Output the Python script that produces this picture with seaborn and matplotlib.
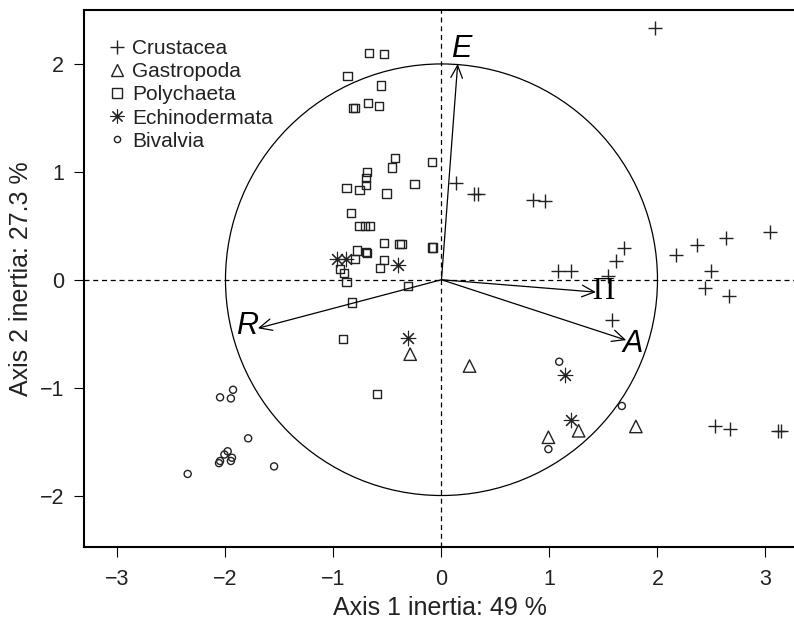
import numpy as np
import pandas as pd
import matplotlib
matplotlib.use("Agg")
import matplotlib.pyplot as plt
import seaborn as sns
from matplotlib.lines import Line2D
from matplotlib.patches import Circle

# ---------------- data ----------------
crus_x = [1.98, 0.13, 0.30, 0.34, 0.85, 0.96, 1.69, 1.62, 1.08, 1.20, 1.54, 1.58,
          2.17, 2.37, 2.63, 3.04, 2.50, 2.44, 2.66, 2.53, 2.67, 3.12, 3.14]
crus_y = [2.33, 0.90, 0.79, 0.79, 0.74, 0.73, 0.29, 0.17, 0.08, 0.08, 0.03, -0.37,
          0.23, 0.32, 0.39, 0.44, 0.08, -0.08, -0.15, -1.36, -1.38, -1.40, -1.40]

gast_x = [-0.29, 0.26, 0.99, 1.27, 1.80]
gast_y = [-0.69, -0.80, -1.46, -1.40, -1.36]

poly_x = [-0.67, -0.53, -0.87, -0.56, -0.82, -0.80, -0.68, -0.58, -0.43, -0.46,
          -0.09, -0.69, -0.70, -0.70, -0.88, -0.76, -0.51, -0.25, -0.84, -0.76,
          -0.71, -0.66, -0.53, -0.39, -0.37, -0.09, -0.08, -0.78, -0.70, -0.69,
          -0.80, -0.53, -0.57, -0.94, -0.90, -0.88, -0.31, -0.83, -0.91, -0.60]
poly_y = [2.10, 2.09, 1.89, 1.80, 1.59, 1.59, 1.64, 1.61, 1.13, 1.04,
          1.09, 1.00, 0.94, 0.88, 0.85, 0.83, 0.80, 0.89, 0.62, 0.50,
          0.50, 0.50, 0.34, 0.33, 0.33, 0.30, 0.30, 0.27, 0.26, 0.25,
          0.19, 0.18, 0.11, 0.10, 0.06, -0.02, -0.06, -0.21, -0.55, -1.06]

echi_x = [-0.97, -0.88, -0.40, -0.31, 1.14, 1.20]
echi_y = [0.19, 0.19, 0.14, -0.54, -0.88, -1.30]

biva_x = [1.09, 1.67, 0.99, -1.93, -2.05, -1.95, -1.79, -1.98, -2.01, -2.05,
          -2.06, -1.94, -1.95, -2.35, -1.55]
biva_y = [-0.76, -1.17, -1.57, -1.02, -1.09, -1.10, -1.47, -1.59, -1.62, -1.68,
          -1.70, -1.65, -1.68, -1.80, -1.73]

groups = ["Crustacea", "Gastropoda", "Polychaeta", "Echinodermata", "Bivalvia"]

# variable arrows (correlation circle)
var_names = ["E", "R", "\u03a0", "A"]
var_x = [0.15, -1.70, 1.43, 1.71]
var_y = [2.00, -0.45, -0.115, -0.56]
lab_x = [0.18, -1.80, 1.50, 1.77]
lab_y = [2.14, -0.43, -0.11, -0.60]

x_ticks = [-3, -2, -1, 0, 1, 2, 3]
y_ticks = [-2, -1, 0, 1, 2]
x_label = "Axis 1 inertia: 49 %"
y_label = "Axis 2 inertia: 27.3 %"

# ---------------- style ----------------
sns.set_theme(style="white")
plt.rcParams["font.family"] = ["Liberation Sans", "DejaVu Sans"]

W, H = 794, 623
fig = plt.figure(figsize=(W / 100, H / 100), dpi=100)
xlim = (-3.31, 3.28)
ylim = (-2.48, 2.50)
ax_left, ax_bottom = 84, 623 - 547.3
ax_w = (xlim[1] - xlim[0]) * 108.0
ax_h = 537.3
ax = fig.add_axes([ax_left / W, ax_bottom / H, ax_w / W, ax_h / H])

ink = "#222222"

frames = {
    "Crustacea": (crus_x, crus_y),
    "Gastropoda": (gast_x, gast_y),
    "Polychaeta": (poly_x, poly_y),
    "Echinodermata": (echi_x, echi_y),
    "Bivalvia": (biva_x, biva_y),
}
styles = {
    "Crustacea": dict(marker="+", s=110, linewidth=1.0, color=ink),
    "Gastropoda": dict(marker="^", s=80, facecolor="none", edgecolor=ink, linewidth=1.0),
    "Polychaeta": dict(marker="s", s=36, facecolor="none", edgecolor=ink, linewidth=1.0),
    "Echinodermata": dict(marker=(8, 2, 0), s=110, linewidth=0.8, color=ink),
    "Bivalvia": dict(marker="o", s=26, facecolor="none", edgecolor=ink, linewidth=1.0),
}
for g in groups:
    gx, gy = frames[g]
    df = pd.DataFrame({"x": gx, "y": gy})
    sns.scatterplot(data=df, x="x", y="y", ax=ax, legend=False, zorder=3, **styles[g])

# reference lines and circle
ax.axhline(0, color="black", lw=0.9, ls=(0, (4, 3)), zorder=1)
ax.axvline(0, color="black", lw=0.9, ls=(0, (4, 3)), zorder=1)
ax.add_patch(Circle((0, 0), 2, fill=False, edgecolor="black", lw=0.9, zorder=2))

# arrows
for name, vx, vy, lx, ly in zip(var_names, var_x, var_y, lab_x, lab_y):
    ax.annotate("", xy=(vx, vy), xytext=(0, 0),
                arrowprops=dict(arrowstyle="->,head_length=0.75,head_width=0.35",
                                lw=0.9, color="black", shrinkA=0, shrinkB=0),
                zorder=4)
    if name == "\u03a0":
        ax.text(lx, ly, name, fontsize=22, family=["Liberation Serif", "DejaVu Serif"],
                ha="center", va="center", color="black", zorder=5)
    else:
        ax.text(lx, ly, name, fontsize=22, style="italic",
                ha="center", va="center", color="black", zorder=5)

ax.set_xlim(*xlim)
ax.set_ylim(*ylim)
ax.set_xticks(x_ticks)
ax.set_yticks(y_ticks)
ax.set_xticklabels(["\u22123", "\u22122", "\u22121", "0", "1", "2", "3"])
ax.set_yticklabels(["\u22122", "\u22121", "0", "1", "2"])
ax.tick_params(axis="both", direction="out", length=7.3, width=0.8, color="black",
               labelsize=15.5, labelcolor=ink, bottom=True, left=True)
ax.tick_params(axis="x", pad=8)
ax.tick_params(axis="y", pad=7)
for sp in ax.spines.values():
    sp.set_visible(True)
    sp.set_color("black")
    sp.set_linewidth(1.5)

ax.set_xlabel(x_label, fontsize=18, color=ink)
ax.set_ylabel(y_label, fontsize=18, color=ink)
ax.xaxis.set_label_coords(0.5, -0.090)
ax.yaxis.set_label_coords(-0.072, 0.5)

# legend
handles = [
    Line2D([], [], ls="none", marker="+", markersize=10, mew=1.0, color=ink),
    Line2D([], [], ls="none", marker="^", markersize=8, mew=1.0, mfc="none", mec=ink),
    Line2D([], [], ls="none", marker="s", markersize=6.5, mew=1.0, mfc="none", mec=ink),
    Line2D([], [], ls="none", marker=(8, 2, 0), markersize=10, mew=0.8, color=ink),
    Line2D([], [], ls="none", marker="o", markersize=4.5, mew=1.0, mfc="none", mec=ink),
]
leg = ax.legend(handles, groups, loc="upper left",
                bbox_to_anchor=(109 / W, 1 - 39 / H), bbox_transform=fig.transFigure,
                frameon=False, fontsize=15, handlelength=0.75, handletextpad=0.35,
                labelspacing=0.2, borderpad=0, borderaxespad=0)
for t in leg.get_texts():
    t.set_color(ink)

fig.savefig("out.png", dpi=100)
